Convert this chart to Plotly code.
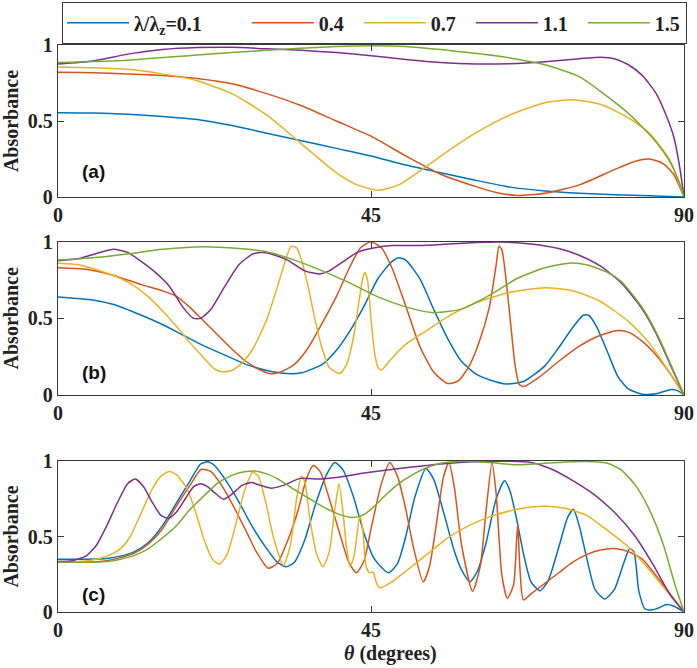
import plotly.graph_objects as go

# ---------------- data ----------------
SERIES_NAMES = ["λ/λ<sub>z</sub>=0.1", "0.4", "0.7", "1.1", "1.5"]
COLORS = ["#0072BD", "#D95319", "#EDB120", "#7E2F8E", "#77AC30"]
X_TICKS = [0, 45, 90]
X_TICK_TEXT = ["0", "45", "90"]
Y_TICKS = [0, 0.5, 1]
Y_TICK_TEXT = ["0", "0.5", "1"]
PANEL_LABELS = ["(a)", "(b)", "(c)"]

# panel (a)
A1_T = [0, 5, 10, 15, 20, 25, 30, 35, 40, 45, 50, 55, 60, 65, 70, 75, 80, 85, 90]
A1_Y = [0.555, 0.553, 0.545, 0.53, 0.51, 0.47, 0.42, 0.37, 0.32, 0.27, 0.21, 0.16, 0.11, 0.065, 0.04, 0.025, 0.015, 0.008, 0]
A2_T = [0, 5, 10, 15, 20, 25, 30, 35, 40, 45, 50, 55, 60, 63, 66, 70, 75, 80, 83, 85, 87, 88.5, 90]
A2_Y = [0.82, 0.818, 0.81, 0.80, 0.78, 0.745, 0.68, 0.60, 0.50, 0.40, 0.27, 0.15, 0.07, 0.03, 0.01, 0.025, 0.08, 0.18, 0.235, 0.25, 0.22, 0.15, 0]
A3_T = [0, 5, 10, 15, 20, 25, 30, 35, 40, 43, 46, 49, 52, 56, 60, 65, 70, 74, 78, 82, 85, 88, 90]
A3_Y = [0.855, 0.85, 0.84, 0.81, 0.765, 0.68, 0.54, 0.35, 0.16, 0.08, 0.045, 0.08, 0.17, 0.30, 0.42, 0.54, 0.62, 0.64, 0.61, 0.52, 0.42, 0.24, 0]
A4_T = [0, 5, 10, 15, 20, 25, 30, 35, 40, 45, 50, 55, 60, 65, 70, 75, 78, 80, 82, 84, 86, 87.5, 88.5, 89.3, 90]
A4_Y = [0.875, 0.895, 0.94, 0.97, 0.983, 0.985, 0.975, 0.965, 0.95, 0.93, 0.905, 0.885, 0.875, 0.877, 0.89, 0.91, 0.92, 0.91, 0.87, 0.80, 0.68, 0.53, 0.40, 0.22, 0]
A5_T = [0, 10, 20, 30, 40, 45, 50, 55, 60, 65, 70, 75, 79, 82, 84, 86, 88, 89.3, 90]
A5_Y = [0.885, 0.90, 0.935, 0.965, 0.99, 0.995, 0.99, 0.97, 0.945, 0.915, 0.87, 0.79, 0.66, 0.55, 0.46, 0.36, 0.23, 0.10, 0]

# panel (b)
B1_T = [0, 5, 8, 12, 15, 18, 21, 24, 27, 30, 33, 35, 38, 40, 42, 44, 46, 48, 49, 50, 52, 54, 56, 58, 60, 62, 64.5, 67, 70, 72, 74, 75.5, 76.3, 77.5, 79, 80.5, 82, 84, 86, 88, 89, 90]
B1_Y = [0.64, 0.62, 0.59, 0.52, 0.46, 0.39, 0.32, 0.26, 0.20, 0.16, 0.14, 0.145, 0.20, 0.29, 0.42, 0.58, 0.76, 0.87, 0.895, 0.88, 0.76, 0.56, 0.37, 0.22, 0.14, 0.10, 0.072, 0.09, 0.19, 0.31, 0.44, 0.52, 0.52, 0.44, 0.28, 0.12, 0.04, 0.005, 0.008, 0.035, 0.03, 0]
B2_T = [0, 4, 8, 12, 15, 17, 19, 21, 23, 25, 27, 29, 30.5, 32, 34, 36, 38, 40, 42, 43.5, 45, 46.5, 48, 50, 52, 54, 56, 57.5, 59, 60.5, 62, 63, 63.4, 63.8, 64.3, 65, 65.7, 66.3, 67, 69, 72, 75, 78, 80.5, 82, 84, 86, 88, 90]
B2_Y = [0.83, 0.82, 0.78, 0.72, 0.68, 0.645, 0.57, 0.48, 0.39, 0.30, 0.22, 0.165, 0.14, 0.15, 0.20, 0.31, 0.47, 0.64, 0.84, 0.96, 1.0, 0.96, 0.83, 0.58, 0.32, 0.15, 0.075, 0.09, 0.18, 0.34, 0.57, 0.85, 0.97, 0.95, 0.80, 0.50, 0.20, 0.07, 0.055, 0.11, 0.22, 0.32, 0.39, 0.42, 0.41, 0.35, 0.26, 0.14, 0]
B3_T = [0, 3, 6, 9, 11, 13, 15, 17, 19, 21, 22.5, 23.5, 25, 26.5, 28, 30, 31.5, 32.5, 33.5, 34.3, 35, 36, 37, 38, 39, 40.5, 41.5, 42.5, 43.3, 43.8, 44.1, 44.5, 45, 45.5, 46, 46.5, 48, 50, 53, 56, 60, 65, 70, 74, 78, 82, 85, 88, 90]
B3_Y = [0.86, 0.85, 0.81, 0.76, 0.71, 0.64, 0.55, 0.45, 0.34, 0.24, 0.17, 0.152, 0.16, 0.21, 0.30, 0.49, 0.70, 0.85, 0.97, 0.96, 0.88, 0.70, 0.48, 0.30, 0.18, 0.14, 0.20, 0.38, 0.62, 0.76, 0.80, 0.75, 0.50, 0.28, 0.18, 0.163, 0.24, 0.33, 0.42, 0.51, 0.60, 0.67, 0.70, 0.68, 0.61, 0.48, 0.34, 0.14, 0]
B4_T = [0, 3, 6, 8, 10, 12, 14, 16, 18, 19.5, 20.5, 22, 24, 26, 28, 29.5, 31, 33, 35.5, 37.5, 39, 41, 43, 45, 48, 52, 56, 60, 64, 68, 72, 75, 78, 81, 84, 86, 88, 90]
B4_Y = [0.875, 0.89, 0.93, 0.95, 0.93, 0.87, 0.80, 0.71, 0.57, 0.50, 0.50, 0.56, 0.71, 0.85, 0.92, 0.93, 0.915, 0.88, 0.81, 0.79, 0.81, 0.87, 0.93, 0.955, 0.975, 0.975, 0.985, 0.995, 0.998, 0.985, 0.955, 0.91, 0.84, 0.73, 0.56, 0.40, 0.20, 0]
B5_T = [0, 5, 10, 15, 21, 26, 30, 34, 38, 42, 46, 50, 54, 58, 62, 66, 70, 73.5, 76, 79, 81, 84, 86, 88, 90]
B5_Y = [0.88, 0.895, 0.92, 0.95, 0.967, 0.955, 0.935, 0.88, 0.81, 0.73, 0.64, 0.575, 0.537, 0.56, 0.65, 0.76, 0.83, 0.86, 0.85, 0.80, 0.74, 0.57, 0.41, 0.21, 0]

# panel (c)
C1_T = [0, 4, 7, 9, 11, 13, 15, 17, 19, 20.5, 21.5, 22.5, 24, 26, 28, 30, 31.5, 32.8, 34, 35.5, 37, 38.5, 39.8, 41, 42.5, 44, 45.5, 47.5, 48.8, 50, 51.3, 52.9, 54, 55.5, 57, 58, 59.2, 60.3, 61.5, 63, 64.2, 65, 66, 67, 68, 69.3, 70.5, 72, 73.3, 74.1, 75, 76, 77.2, 78.6, 80, 81.3, 82.2, 82.8, 83.5, 84.4, 85.5, 86.5, 87.5, 88.5, 90]
C1_Y = [0.35, 0.35, 0.355, 0.37, 0.40, 0.46, 0.57, 0.72, 0.87, 0.98, 0.995, 0.97, 0.88, 0.73, 0.56, 0.42, 0.33, 0.30, 0.33, 0.48, 0.71, 0.90, 0.99, 0.94, 0.76, 0.52, 0.35, 0.26, 0.32, 0.50, 0.76, 0.95, 0.88, 0.65, 0.40, 0.28, 0.20, 0.27, 0.45, 0.75, 0.87, 0.80, 0.60, 0.37, 0.20, 0.14, 0.21, 0.43, 0.63, 0.68, 0.56, 0.36, 0.15, 0.086, 0.15, 0.32, 0.42, 0.40, 0.14, 0.02, 0.015, 0.03, 0.05, 0.04, 0]
C2_T = [0, 4, 7, 9, 11, 13, 15, 17, 19, 20.6, 22, 23.5, 25, 27, 28.5, 30.2, 31.5, 33, 34.5, 35.7, 36.7, 37.7, 39, 40.5, 41.8, 42.9, 44, 45, 46.5, 47.7, 48.8, 50, 51, 52.5, 53.4, 54.3, 55.4, 56.2, 57, 58, 59.6, 60.7, 61.5, 62.4, 63, 63.8, 64.6, 65.5, 65.9, 66.1, 66.4, 66.9, 68, 70, 72, 74, 76, 78, 80, 82, 84, 86, 88, 90]
C2_Y = [0.33, 0.33, 0.34, 0.36, 0.39, 0.45, 0.55, 0.70, 0.84, 0.945, 0.93, 0.84, 0.72, 0.54, 0.40, 0.29, 0.32, 0.47, 0.67, 0.88, 0.97, 0.93, 0.75, 0.52, 0.33, 0.26, 0.34, 0.55, 0.85, 0.99, 0.90, 0.68, 0.45, 0.20, 0.30, 0.55, 0.89, 0.99, 0.82, 0.45, 0.137, 0.30, 0.65, 0.99, 0.78, 0.25, 0.09, 0.18, 0.45, 0.58, 0.30, 0.08, 0.12, 0.19, 0.26, 0.33, 0.38, 0.41, 0.42, 0.40, 0.35, 0.24, 0.12, 0]
C3_T = [0, 3, 5, 7, 9, 10.5, 12, 13.5, 14.8, 16, 17, 18.5, 19.8, 21, 22.2, 23.2, 24.3, 25.5, 26.8, 28, 28.8, 29.8, 31, 32.4, 33.4, 34.3, 35, 35.5, 36.2, 37.2, 38.1, 39, 39.8, 40.4, 41, 41.5, 42, 42.6, 43.4, 43.8, 44.3, 44.8, 45.3, 45.8, 46.3, 48, 50, 53, 56, 59, 62, 65, 68, 70.3, 73, 76, 79, 82, 85, 87.5, 90]
C3_Y = [0.33, 0.335, 0.345, 0.37, 0.42, 0.51, 0.66, 0.81, 0.90, 0.93, 0.91, 0.82, 0.66, 0.48, 0.35, 0.316, 0.38, 0.57, 0.80, 0.925, 0.90, 0.74, 0.49, 0.31, 0.44, 0.75, 0.90, 0.86, 0.62, 0.38, 0.30, 0.40, 0.68, 0.85, 0.65, 0.42, 0.30, 0.38, 0.64, 0.55, 0.30, 0.26, 0.265, 0.19, 0.16, 0.20, 0.27, 0.38, 0.49, 0.57, 0.63, 0.67, 0.695, 0.70, 0.685, 0.64, 0.54, 0.43, 0.28, 0.14, 0]
C4_T = [0, 2, 4, 5.5, 7, 8.5, 10, 11.1, 12.3, 13.5, 14.8, 15.9, 17, 18.3, 19.5, 20.5, 21.5, 22.5, 23.8, 25, 26.5, 27.8, 29, 30.7, 32.5, 34.8, 37.7, 40, 44, 50, 55, 60, 65, 68, 71, 74, 77, 80, 83, 85.6, 88, 90]
C4_Y = [0.335, 0.34, 0.37, 0.44, 0.57, 0.72, 0.85, 0.88, 0.83, 0.73, 0.64, 0.62, 0.66, 0.75, 0.83, 0.85, 0.83, 0.79, 0.746, 0.78, 0.84, 0.857, 0.84, 0.82, 0.84, 0.885, 0.88, 0.89, 0.92, 0.955, 0.98, 0.995, 0.998, 0.99, 0.945, 0.87, 0.78, 0.66, 0.50, 0.31, 0.115, 0]
C5_T = [0, 4, 7, 9, 11, 13, 15, 17, 19, 21, 23, 25, 27, 28.3, 30, 32, 34, 36, 38, 40, 42, 43.5, 45, 47, 49, 51, 53, 55, 58, 62, 66, 70, 74, 77, 79, 81, 83, 85, 87, 88.7, 90]
C5_Y = [0.33, 0.33, 0.335, 0.35, 0.375, 0.42, 0.49, 0.57, 0.68, 0.77, 0.855, 0.905, 0.93, 0.934, 0.915, 0.87, 0.81, 0.755, 0.70, 0.655, 0.627, 0.635, 0.68, 0.77, 0.85, 0.91, 0.955, 0.985, 0.998, 0.99, 0.975, 0.985, 0.995, 0.995, 0.985, 0.94, 0.84, 0.68, 0.45, 0.18, 0]

PANELS = [
    [(A1_T, A1_Y), (A2_T, A2_Y), (A3_T, A3_Y), (A4_T, A4_Y), (A5_T, A5_Y)],
    [(B1_T, B1_Y), (B2_T, B2_Y), (B3_T, B3_Y), (B4_T, B4_Y), (B5_T, B5_Y)],
    [(C1_T, C1_Y), (C2_T, C2_Y), (C3_T, C3_Y), (C4_T, C4_Y), (C5_T, C5_Y)],
]

# ---------------- layout geometry (pixels) ----------------
W, H = 697, 668
ML, MR, MT, MB = 58, 13, 45, 56
PLOT_TOP, PLOT_BOT = MT, H - MB
PH = PLOT_BOT - PLOT_TOP
PW = W - ML - MR
PANEL_PX = [(45, 197), (241.7, 395), (461, 612)]
LABEL_POS = [(3.16, 0.165), (3.16, 0.15), (3.16, 0.115)]
LEGEND_PAD = [8, 2, 2, 2, 0]   # non-breaking spaces after each legend label (spacing)


def ydom(top, bot):
    return [(PLOT_BOT - bot) / PH, (PLOT_BOT - top) / PH]


SERIF = "Liberation Serif"
SANS = "Liberation Sans"
FRAME = "#3a3a3a"

fig = go.Figure()
for p, series in enumerate(PANELS):
    xa = "x" if p == 0 else f"x{p+1}"
    ya = "y" if p == 0 else f"y{p+1}"
    for i, (t, v) in enumerate(series):
        fig.add_trace(go.Scatter(
            x=t, y=v, mode="lines", xaxis=xa, yaxis=ya,
            name=SERIES_NAMES[i] + "\u00a0" * LEGEND_PAD[i],
            legendgroup=str(i), showlegend=(p == 0),
            line=dict(color=COLORS[i], width=1.5, shape="spline", smoothing=0.6),
            hoverinfo="skip",
        ))

axis_common = dict(
    showline=True, linecolor=FRAME, linewidth=1.3, mirror="ticks",
    ticks="inside", ticklen=6, tickwidth=1.2, tickcolor=FRAME,
    showgrid=False, zeroline=False, automargin=False,
    tickfont=dict(family=SERIF, size=20, color="#222", weight="bold"),
)

layout = dict(
    width=W, height=H,
    margin=dict(l=ML, r=MR, t=MT, b=MB, autoexpand=False),
    paper_bgcolor="white", plot_bgcolor="white",
    showlegend=True,
    legend=dict(
        orientation="h", x=(62 - ML) / PW, y=(PLOT_BOT - 2) / PH,
        xanchor="left", yanchor="top",
        bgcolor="white", bordercolor=FRAME, borderwidth=1.2,
        font=dict(family=SERIF, size=20, color="#222", weight="bold"),
        itemwidth=62,
    ),
    annotations=[],
)

for p in range(3):
    sx = "" if p == 0 else str(p + 1)
    layout[f"xaxis{sx}"] = dict(
        axis_common, domain=[0, 1], range=[0, 90],
        tickvals=X_TICKS, ticktext=X_TICK_TEXT,
        anchor=f"y{sx}",
    )
    layout[f"yaxis{sx}"] = dict(
        axis_common, domain=ydom(*PANEL_PX[p]), range=[0, 1],
        tickvals=Y_TICKS, ticktext=Y_TICK_TEXT,
        anchor=f"x{sx}",
        title=dict(text="Absorbance", standoff=10,
                   font=dict(family=SERIF, size=20, color="#222", weight="bold")),
    )
    layout["annotations"].append(dict(
        text=PANEL_LABELS[p], x=LABEL_POS[p][0], y=LABEL_POS[p][1],
        xref=f"x{sx}", yref=f"y{sx}", xanchor="left", yanchor="middle",
        showarrow=False, font=dict(family=SANS, size=19, color="#111", weight="bold"),
    ))

layout["annotations"].append(dict(
    text="<i>θ</i> (degrees)", x=(390 - ML) / PW, y=(PLOT_BOT - 654) / PH,
    xref="paper", yref="paper", xanchor="center", yanchor="middle", showarrow=False,
    font=dict(family=SERIF, size=20, color="#222", weight="bold"),
))

fig.update_layout(**layout)
fig.write_html("out.html", config={"displayModeBar": False},
               post_script="document.body.style.margin='0';")
